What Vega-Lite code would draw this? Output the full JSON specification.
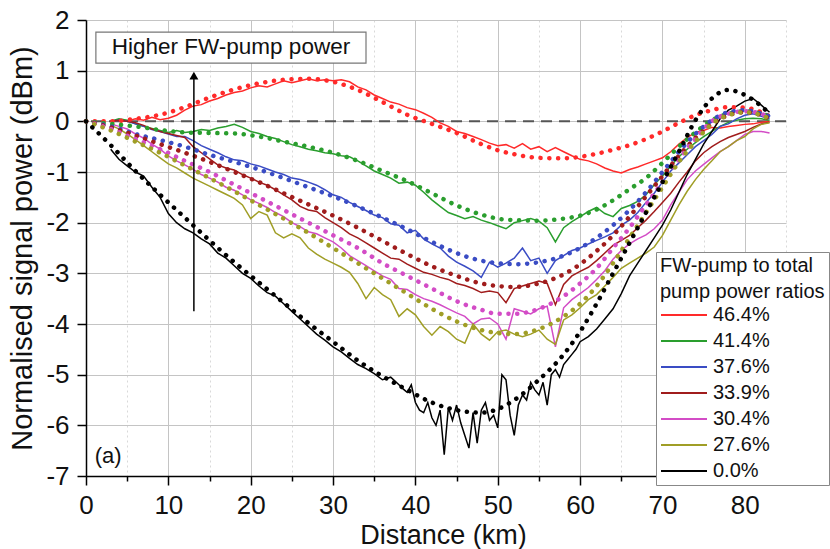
{
  "$schema": "https://vega.github.io/schema/vega-lite/v6.json",
  "width": 700,
  "height": 456,
  "autosize": {"type": "none"},
  "padding": {"left": 86, "top": 20, "right": 44, "bottom": 73},
  "background": "white",
  "config": {
    "view": {"stroke": null},
    "font": "Liberation Sans",
    "axis": {
      "domainColor": "#000", "domainWidth": 1.5, "tickColor": "#000", "tickWidth": 1.5,
      "labelFont": "Liberation Sans", "labelFontSize": 26, "labelColor": "#111",
      "titleFont": "Liberation Sans", "titleFontSize": 27, "titleFontWeight": "normal", "titleColor": "#111",
      "grid": true, "gridWidth": 1, "labelOverlap": false, "labelFlush": false
    },
    "legend": {
      "orient": "none", "legendX": 570, "legendY": 232,
      "strokeColor": "#888", "fillColor": "white", "padding": 4,
      "titleFont": "Liberation Sans", "titleFontSize": 20, "titleFontWeight": "normal", "titleColor": "#111",
      "titleLineHeight": 26, "titlePadding": 2,
      "labelFont": "Liberation Sans", "labelFontSize": 20, "labelColor": "#111", "labelOffset": 31,
      "symbolType": "M-1,0H3.6", "symbolStrokeWidth": 2, "symbolSize": 400, "rowPadding": 5
    }
  },
  "datasets": {
    "meas": [
      {"d":3,"r":0.0,"g":0.0,"b":0.0,"m":0.0,"p":-0.05,"o":-0.08,"k":-0.55},
      {"d":4,"r":0.02,"g":0.05,"b":0.02,"m":0.02,"p":-0.1,"o":-0.15,"k":-0.75},
      {"d":5,"r":0.0,"g":0.02,"b":0.0,"m":0.0,"p":-0.15,"o":-0.25,"k":-0.88},
      {"d":6,"r":0.05,"g":-0.05,"b":-0.05,"m":-0.03,"p":-0.25,"o":-0.36,"k":-1.0},
      {"d":7,"r":0.02,"g":-0.1,"b":-0.1,"m":-0.08,"p":-0.33,"o":-0.48,"k":-1.08},
      {"d":8,"r":0.08,"g":-0.14,"b":-0.16,"m":-0.15,"p":-0.45,"o":-0.6,"k":-1.3},
      {"d":9,"r":0.03,"g":-0.18,"b":-0.2,"m":-0.2,"p":-0.55,"o":-0.72,"k":-1.5},
      {"d":10,"r":0.06,"g":-0.22,"b":-0.25,"m":-0.24,"p":-0.68,"o":-0.84,"k":-1.82},
      {"d":11,"r":0.12,"g":-0.18,"b":-0.3,"m":-0.28,"p":-0.78,"o":-0.92,"k":-2.0},
      {"d":12,"r":0.22,"g":-0.22,"b":-0.3,"m":-0.32,"p":-0.86,"o":-1.02,"k":-2.12},
      {"d":13,"r":0.3,"g":-0.2,"b":-0.38,"m":-0.5,"p":-0.95,"o":-1.12,"k":-2.2},
      {"d":14,"r":0.33,"g":-0.16,"b":-0.48,"m":-0.62,"p":-1.05,"o":-1.2,"k":-2.32},
      {"d":15,"r":0.4,"g":-0.18,"b":-0.55,"m":-0.74,"p":-1.12,"o":-1.28,"k":-2.42},
      {"d":16,"r":0.45,"g":-0.13,"b":-0.62,"m":-0.86,"p":-1.2,"o":-1.36,"k":-2.6},
      {"d":17,"r":0.52,"g":-0.1,"b":-0.7,"m":-0.92,"p":-1.3,"o":-1.44,"k":-2.7},
      {"d":18,"r":0.57,"g":-0.06,"b":-0.76,"m":-0.96,"p":-1.36,"o":-1.52,"k":-2.85},
      {"d":19,"r":0.6,"g":-0.12,"b":-0.78,"m":-1.05,"p":-1.45,"o":-1.65,"k":-3.0},
      {"d":20,"r":0.66,"g":-0.2,"b":-0.84,"m":-1.12,"p":-1.55,"o":-1.92,"k":-3.1},
      {"d":21,"r":0.7,"g":-0.24,"b":-0.88,"m":-1.2,"p":-1.62,"o":-1.78,"k":-3.25},
      {"d":22,"r":0.68,"g":-0.3,"b":-0.94,"m":-1.26,"p":-1.7,"o":-1.85,"k":-3.38},
      {"d":23,"r":0.74,"g":-0.34,"b":-1.0,"m":-1.35,"p":-1.8,"o":-2.2,"k":-3.45},
      {"d":24,"r":0.8,"g":-0.4,"b":-1.05,"m":-1.45,"p":-1.88,"o":-2.3,"k":-3.6},
      {"d":25,"r":0.76,"g":-0.46,"b":-1.12,"m":-1.55,"p":-2.0,"o":-2.22,"k":-3.75},
      {"d":26,"r":0.8,"g":-0.5,"b":-1.15,"m":-1.68,"p":-2.08,"o":-2.3,"k":-3.9},
      {"d":27,"r":0.84,"g":-0.55,"b":-1.2,"m":-1.75,"p":-2.18,"o":-2.5,"k":-4.05},
      {"d":28,"r":0.8,"g":-0.58,"b":-1.26,"m":-1.78,"p":-2.22,"o":-2.62,"k":-4.2},
      {"d":29,"r":0.82,"g":-0.62,"b":-1.35,"m":-1.9,"p":-2.3,"o":-2.72,"k":-4.32},
      {"d":30,"r":0.8,"g":-0.64,"b":-1.45,"m":-2.0,"p":-2.38,"o":-2.8,"k":-4.45},
      {"d":31,"r":0.82,"g":-0.68,"b":-1.5,"m":-2.1,"p":-2.5,"o":-2.88,"k":-4.55},
      {"d":32,"r":0.78,"g":-0.7,"b":-1.6,"m":-2.22,"p":-2.65,"o":-2.98,"k":-4.68},
      {"d":33,"r":0.68,"g":-0.78,"b":-1.68,"m":-2.3,"p":-2.75,"o":-3.2,"k":-4.8},
      {"d":34,"r":0.62,"g":-0.88,"b":-1.76,"m":-2.4,"p":-2.85,"o":-3.5,"k":-4.88},
      {"d":35,"r":0.52,"g":-0.98,"b":-1.85,"m":-2.5,"p":-2.95,"o":-3.28,"k":-4.98},
      {"d":36,"r":0.45,"g":-1.05,"b":-1.9,"m":-2.6,"p":-3.05,"o":-3.42,"k":-5.1},
      {"d":37,"r":0.38,"g":-1.12,"b":-2.02,"m":-2.7,"p":-3.12,"o":-3.52,"k":-5.05},
      {"d":38,"r":0.34,"g":-1.22,"b":-2.05,"m":-2.72,"p":-3.3,"o":-3.85,"k":-5.2},
      {"d":38.5,"k":-5.28},
      {"d":39,"r":0.27,"g":-1.2,"b":-2.2,"m":-2.82,"p":-3.32,"o":-3.7,"k":-5.35},
      {"d":39.5,"k":-5.2},
      {"d":40,"r":0.23,"g":-1.26,"b":-2.15,"m":-2.9,"p":-3.42,"o":-3.82,"k":-5.55},
      {"d":40.5,"k":-5.7},
      {"d":41,"r":0.16,"g":-1.4,"b":-2.32,"m":-2.98,"p":-3.5,"o":-4.05,"k":-5.75},
      {"d":41.5,"k":-5.55},
      {"d":42,"r":0.08,"g":-1.55,"b":-2.42,"m":-3.02,"p":-3.55,"o":-4.22,"k":-5.85},
      {"d":42.5,"k":-6.0},
      {"d":43,"r":-0.03,"g":-1.68,"b":-2.5,"m":-3.08,"p":-3.62,"o":-4.05,"k":-5.7},
      {"d":43.5,"k":-6.58},
      {"d":44,"r":-0.1,"g":-1.8,"b":-2.66,"m":-3.12,"p":-3.7,"o":-4.15,"k":-5.65},
      {"d":44.5,"k":-5.9},
      {"d":45,"r":-0.2,"g":-1.86,"b":-2.78,"m":-3.2,"p":-3.78,"o":-4.3,"k":-5.6},
      {"d":45.5,"k":-5.95},
      {"d":46,"r":-0.24,"g":-1.92,"b":-2.86,"m":-3.24,"p":-3.85,"o":-4.38,"k":-6.2},
      {"d":46.5,"k":-6.45},
      {"d":47,"r":-0.3,"g":-1.88,"b":-2.95,"m":-3.3,"p":-4.0,"o":-4.0,"k":-5.75},
      {"d":47.5,"k":-6.35},
      {"d":48,"r":-0.36,"g":-1.95,"b":-3.08,"m":-3.38,"p":-3.9,"o":-4.2,"k":-5.7},
      {"d":48.5,"k":-5.55},
      {"d":49,"r":-0.43,"g":-2.0,"b":-2.78,"m":-3.35,"p":-3.88,"o":-4.32,"k":-5.9},
      {"d":49.5,"k":-5.8},
      {"d":50,"r":-0.48,"g":-2.06,"b":-2.88,"m":-3.38,"p":-4.0,"o":-4.15,"k":-6.05},
      {"d":50.5,"k":-5.0},
      {"d":51,"r":-0.46,"g":-2.12,"b":-2.8,"m":-3.58,"p":-4.3,"o":-4.12,"k":-5.1},
      {"d":51.5,"k":-5.8},
      {"d":52,"r":-0.53,"g":-2.0,"b":-2.7,"m":-3.3,"p":-3.7,"o":-4.2,"k":-6.2},
      {"d":52.5,"k":-5.6},
      {"d":53,"r":-0.44,"g":-1.96,"b":-2.5,"m":-3.25,"p":-3.75,"o":-4.25,"k":-5.4},
      {"d":53.5,"k":-5.5},
      {"d":54,"r":-0.55,"g":-1.92,"b":-2.75,"m":-3.2,"p":-3.8,"o":-4.2,"k":-5.15},
      {"d":54.5,"k":-5.3},
      {"d":55,"r":-0.5,"g":-1.97,"b":-2.7,"m":-3.15,"p":-3.7,"o":-4.12,"k":-5.4},
      {"d":55.5,"k":-5.15},
      {"d":56,"r":-0.6,"g":-2.1,"b":-3.0,"m":-3.2,"p":-3.65,"o":-4.3,"k":-5.6},
      {"d":56.5,"k":-5.0},
      {"d":57,"r":-0.52,"g":-2.38,"b":-2.75,"m":-3.62,"p":-4.45,"o":-4.4,"k":-4.9},
      {"d":57.5,"k":-5.05},
      {"d":58,"r":-0.6,"g":-2.1,"b":-2.65,"m":-3.22,"p":-3.68,"o":-3.92,"k":-4.8},
      {"d":58.5,"k":-4.7},
      {"d":59,"r":-0.68,"g":-1.98,"b":-2.55,"m":-3.05,"p":-3.52,"o":-3.82,"k":-4.6},
      {"d":59.5,"k":-4.5},
      {"d":60,"r":-0.75,"g":-1.88,"b":-2.5,"m":-2.96,"p":-3.4,"o":-3.68,"k":-4.35},
      {"d":61,"r":-0.78,"g":-1.78,"b":-2.42,"m":-2.88,"p":-3.28,"o":-3.52,"k":-4.25},
      {"d":62,"r":-0.84,"g":-1.7,"b":-2.35,"m":-2.75,"p":-3.12,"o":-3.42,"k":-4.1},
      {"d":63,"r":-0.92,"g":-1.82,"b":-2.28,"m":-2.6,"p":-2.95,"o":-3.25,"k":-3.9},
      {"d":64,"r":-0.98,"g":-1.88,"b":-2.2,"m":-2.45,"p":-2.72,"o":-3.08,"k":-3.7},
      {"d":65,"r":-1.02,"g":-1.72,"b":-2.05,"m":-2.35,"p":-2.55,"o":-2.9,"k":-3.4},
      {"d":66,"r":-0.95,"g":-1.66,"b":-1.95,"m":-2.25,"p":-2.42,"o":-2.8,"k":-3.05},
      {"d":67,"r":-0.9,"g":-1.58,"b":-1.8,"m":-2.1,"p":-2.32,"o":-2.7,"k":-2.8},
      {"d":68,"r":-0.84,"g":-1.45,"b":-1.6,"m":-1.95,"p":-2.24,"o":-2.6,"k":-2.55},
      {"d":69,"r":-0.78,"g":-1.25,"b":-1.42,"m":-1.78,"p":-2.12,"o":-2.48,"k":-2.3},
      {"d":70,"r":-0.72,"g":-1.08,"b":-1.2,"m":-1.6,"p":-1.95,"o":-2.25,"k":-2.05},
      {"d":71,"r":-0.6,"g":-0.88,"b":-0.98,"m":-1.42,"p":-1.65,"o":-1.95,"k":-1.75},
      {"d":72,"r":-0.45,"g":-0.7,"b":-0.82,"m":-1.2,"p":-1.4,"o":-1.65,"k":-1.4},
      {"d":73,"r":-0.32,"g":-0.55,"b":-0.66,"m":-1.0,"p":-1.15,"o":-1.38,"k":-1.05},
      {"d":74,"r":-0.22,"g":-0.42,"b":-0.5,"m":-0.78,"p":-0.98,"o":-1.15,"k":-0.75},
      {"d":75,"r":-0.18,"g":-0.3,"b":-0.38,"m":-0.62,"p":-0.85,"o":-0.95,"k":-0.45},
      {"d":76,"r":-0.12,"g":-0.2,"b":-0.26,"m":-0.5,"p":-0.72,"o":-0.78,"k":-0.2},
      {"d":77,"r":-0.13,"g":-0.1,"b":-0.1,"m":-0.4,"p":-0.6,"o":-0.6,"k":0.05},
      {"d":78,"r":-0.1,"g":-0.02,"b":-0.05,"m":-0.32,"p":-0.5,"o":-0.5,"k":0.22},
      {"d":79,"r":-0.08,"g":0.02,"b":0.05,"m":-0.26,"p":-0.38,"o":-0.38,"k":0.3},
      {"d":80,"r":-0.06,"g":0.05,"b":0.12,"m":-0.2,"p":-0.26,"o":-0.3,"k":0.4},
      {"d":81,"r":-0.05,"g":0.06,"b":0.15,"m":-0.12,"p":-0.2,"o":-0.15,"k":0.45},
      {"d":82,"r":-0.02,"g":0.05,"b":0.1,"m":-0.05,"p":-0.2,"o":-0.06,"k":0.32},
      {"d":83,"r":0.0,"g":0.02,"b":0.05,"m":-0.02,"p":-0.23,"o":-0.03,"k":0.18}
    ],
    "sim": [
      {"d":0,"r":0,"g":0,"b":0,"m":0,"p":0,"o":0,"k":0},
      {"d":3,"r":0.0,"g":-0.05,"b":-0.1,"m":-0.12,"p":-0.15,"o":-0.18,"k":-0.47},
      {"d":6,"r":0.05,"g":-0.1,"b":-0.25,"m":-0.28,"p":-0.35,"o":-0.4,"k":-0.98},
      {"d":9,"r":0.13,"g":-0.17,"b":-0.37,"m":-0.45,"p":-0.55,"o":-0.62,"k":-1.45},
      {"d":12,"r":0.28,"g":-0.22,"b":-0.5,"m":-0.62,"p":-0.78,"o":-0.87,"k":-1.9},
      {"d":15,"r":0.47,"g":-0.23,"b":-0.66,"m":-0.8,"p":-1.0,"o":-1.12,"k":-2.35},
      {"d":18,"r":0.63,"g":-0.24,"b":-0.8,"m":-1.0,"p":-1.25,"o":-1.38,"k":-2.78},
      {"d":21,"r":0.75,"g":-0.3,"b":-0.95,"m":-1.2,"p":-1.5,"o":-1.65,"k":-3.18},
      {"d":24,"r":0.82,"g":-0.4,"b":-1.12,"m":-1.42,"p":-1.75,"o":-1.92,"k":-3.58},
      {"d":27,"r":0.84,"g":-0.5,"b":-1.3,"m":-1.64,"p":-2.0,"o":-2.2,"k":-3.98},
      {"d":30,"r":0.78,"g":-0.62,"b":-1.48,"m":-1.86,"p":-2.25,"o":-2.5,"k":-4.35},
      {"d":33,"r":0.62,"g":-0.78,"b":-1.68,"m":-2.1,"p":-2.5,"o":-2.8,"k":-4.72},
      {"d":36,"r":0.38,"g":-0.98,"b":-1.9,"m":-2.36,"p":-2.8,"o":-3.1,"k":-5.03},
      {"d":39,"r":0.13,"g":-1.18,"b":-2.13,"m":-2.62,"p":-3.05,"o":-3.4,"k":-5.3},
      {"d":42,"r":-0.05,"g":-1.42,"b":-2.38,"m":-2.86,"p":-3.3,"o":-3.7,"k":-5.55},
      {"d":45,"r":-0.23,"g":-1.66,"b":-2.6,"m":-3.05,"p":-3.55,"o":-3.95,"k":-5.7},
      {"d":48,"r":-0.45,"g":-1.84,"b":-2.75,"m":-3.2,"p":-3.72,"o":-4.12,"k":-5.75},
      {"d":50,"r":-0.57,"g":-1.92,"b":-2.8,"m":-3.25,"p":-3.8,"o":-4.18,"k":-5.68},
      {"d":52,"r":-0.65,"g":-1.95,"b":-2.82,"m":-3.27,"p":-3.8,"o":-4.2,"k":-5.5},
      {"d":55,"r":-0.72,"g":-1.96,"b":-2.78,"m":-3.2,"p":-3.7,"o":-4.1,"k":-5.1},
      {"d":58,"r":-0.73,"g":-1.92,"b":-2.65,"m":-3.02,"p":-3.45,"o":-3.85,"k":-4.6},
      {"d":60,"r":-0.7,"g":-1.86,"b":-2.5,"m":-2.82,"p":-3.2,"o":-3.6,"k":-4.15},
      {"d":62,"r":-0.64,"g":-1.74,"b":-2.3,"m":-2.56,"p":-2.9,"o":-3.25,"k":-3.6},
      {"d":64,"r":-0.56,"g":-1.56,"b":-2.05,"m":-2.25,"p":-2.5,"o":-2.8,"k":-3.0},
      {"d":66,"r":-0.47,"g":-1.34,"b":-1.75,"m":-1.88,"p":-2.1,"o":-2.3,"k":-2.4},
      {"d":68,"r":-0.35,"g":-1.12,"b":-1.4,"m":-1.48,"p":-1.65,"o":-1.8,"k":-1.8},
      {"d":70,"r":-0.2,"g":-0.82,"b":-1.0,"m":-1.08,"p":-1.2,"o":-1.3,"k":-1.2},
      {"d":72,"r":-0.03,"g":-0.5,"b":-0.6,"m":-0.68,"p":-0.75,"o":-0.8,"k":-0.6},
      {"d":74,"r":0.12,"g":-0.22,"b":-0.25,"m":-0.33,"p":-0.35,"o":-0.4,"k":0.02},
      {"d":76,"r":0.22,"g":0.02,"b":0.02,"m":-0.05,"p":0.0,"o":-0.05,"k":0.45},
      {"d":78,"r":0.28,"g":0.15,"b":0.18,"m":0.12,"p":0.15,"o":0.12,"k":0.62},
      {"d":80,"r":0.27,"g":0.2,"b":0.22,"m":0.18,"p":0.2,"o":0.18,"k":0.52},
      {"d":82,"r":0.18,"g":0.15,"b":0.15,"m":0.12,"p":0.15,"o":0.12,"k":0.3},
      {"d":83,"r":0.1,"g":0.1,"b":0.1,"m":0.05,"p":0.05,"o":0.05,"k":0.15}
    ]
  },
  "layer": [
    {
      "data": {"values": [{}]},
      "mark": {"type": "rule", "strokeDash": [11, 7], "color": "#555", "strokeWidth": 2},
      "encoding": {
        "y": {"datum": 0, "type": "quantitative",
          "scale": {"domain": [-7, 2], "nice": false, "zero": false},
          "axis": {
            "values": [-7,-6.5,-6,-5.5,-5,-4.5,-4,-3.5,-3,-2.5,-2,-1.5,-1,-0.5,0,0.5,1,1.5,2],
            "title": "Normalised signal power (dBm)",
            "labelExpr": "datum.value % 1 == 0 ? '' + datum.value : ''",
            "labelPadding": 8,
            "tickSize": {"condition": {"test": "datum.value % 1 != 0", "value": 5}, "value": 9},
            "gridDash": {"condition": {"test": "datum.value % 1 != 0", "value": [2, 3]}, "value": []},
            "gridColor": {"condition": {"test": "datum.value % 1 != 0", "value": "#d9d9d9"}, "value": "#c4c4c4"},
            "titleFontSize": 29,
            "titleX": -64, "titleY": 228, "titleAlign": "center", "titleBaseline": "middle", "titleAngle": 270
          }
        }
      }
    },
    {
      "data": {"name": "meas"},
      "transform": [
        {"fold": ["r", "g", "b", "m", "p", "o", "k"], "as": ["s", "y"]},
        {"filter": "isValid(datum.y)"}
      ],
      "mark": {"type": "line", "strokeWidth": 1.5},
      "encoding": {
        "x": {"field": "d", "type": "quantitative",
          "scale": {"domain": [0, 85], "nice": false, "zero": false},
          "axis": {
            "values": [0,5,10,15,20,25,30,35,40,45,50,55,60,65,70,75,80,85],
            "title": "Distance (km)",
            "labelExpr": "datum.value % 10 == 0 ? '' + datum.value : ''",
            "labelPadding": 7,
            "tickSize": {"condition": {"test": "datum.value % 10 != 0", "value": 5}, "value": 9},
            "gridDash": {"condition": {"test": "datum.value % 10 != 0", "value": [2, 3]}, "value": []},
            "gridColor": {"condition": {"test": "datum.value % 10 != 0", "value": "#d9d9d9"}, "value": "#c4c4c4"},
            "titleX": 357, "titleY": 59, "titleAlign": "center", "titleBaseline": "middle"
          }
        },
        "y": {"field": "y", "type": "quantitative"},
        "color": {"field": "s", "type": "nominal",
          "scale": {"domain": ["r", "g", "b", "m", "p", "o", "k"],
                    "range": ["#ff2a2a", "#2a9e2e", "#3a4cc4", "#a01c1c", "#d34cc6", "#a09e26", "#000000"]},
          "legend": {
            "title": ["FW-pump to total", "pump power ratios"],
            "labelExpr": "datum.value == 'r' ? '46.4%' : datum.value == 'g' ? '41.4%' : datum.value == 'b' ? '37.6%' : datum.value == 'm' ? '33.9%' : datum.value == 'p' ? '30.4%' : datum.value == 'o' ? '27.6%' : '0.0%'"
          }
        }
      }
    },
    {
      "data": {"name": "sim"},
      "transform": [
        {"fold": ["r", "g", "b", "m", "p", "o", "k"], "as": ["s", "y"]}
      ],
      "mark": {"type": "line", "strokeWidth": 4.5, "strokeDash": [0.1, 8.7], "strokeCap": "round", "interpolate": "monotone"},
      "encoding": {
        "x": {"field": "d", "type": "quantitative"},
        "y": {"field": "y", "type": "quantitative"},
        "stroke": {"field": "s", "type": "nominal",
          "scale": {"domain": ["r", "g", "b", "m", "p", "o", "k"],
                    "range": ["#ff2a2a", "#2a9e2e", "#3a4cc4", "#a01c1c", "#d34cc6", "#a09e26", "#000000"]},
          "legend": null
        }
      }
    },
    {
      "data": {"values": [{}]},
      "mark": {"type": "rect", "fill": "white", "stroke": "#777", "strokeWidth": 1.2},
      "encoding": {
        "x": {"datum": 1.2, "type": "quantitative"},
        "x2": {"datum": 34.0},
        "y": {"datum": 1.15, "type": "quantitative"},
        "y2": {"datum": 1.76}
      }
    },
    {
      "data": {"values": [{}]},
      "mark": {"type": "text", "text": "Higher FW-pump power", "fontSize": 22.5, "font": "Liberation Sans", "color": "#111", "align": "center", "baseline": "middle"},
      "encoding": {
        "x": {"datum": 17.6, "type": "quantitative"},
        "y": {"datum": 1.46, "type": "quantitative"}
      }
    },
    {
      "data": {"values": [{}]},
      "mark": {"type": "rule", "color": "#000", "strokeWidth": 1.5},
      "encoding": {
        "x": {"datum": 13.1, "type": "quantitative"},
        "y": {"datum": -3.75, "type": "quantitative"},
        "y2": {"datum": 0.88}
      }
    },
    {
      "data": {"values": [{}]},
      "mark": {"type": "point", "shape": "triangle-up", "filled": true, "color": "#000", "size": 80, "opacity": 1},
      "encoding": {
        "x": {"datum": 13.1, "type": "quantitative"},
        "y": {"datum": 0.9, "type": "quantitative"}
      }
    },
    {
      "data": {"values": [{}]},
      "mark": {"type": "text", "text": "(a)", "fontSize": 22, "font": "Liberation Sans", "color": "#111", "align": "center", "baseline": "middle"},
      "encoding": {
        "x": {"datum": 2.7, "type": "quantitative"},
        "y": {"datum": -6.6, "type": "quantitative"}
      }
    }
  ]
}
